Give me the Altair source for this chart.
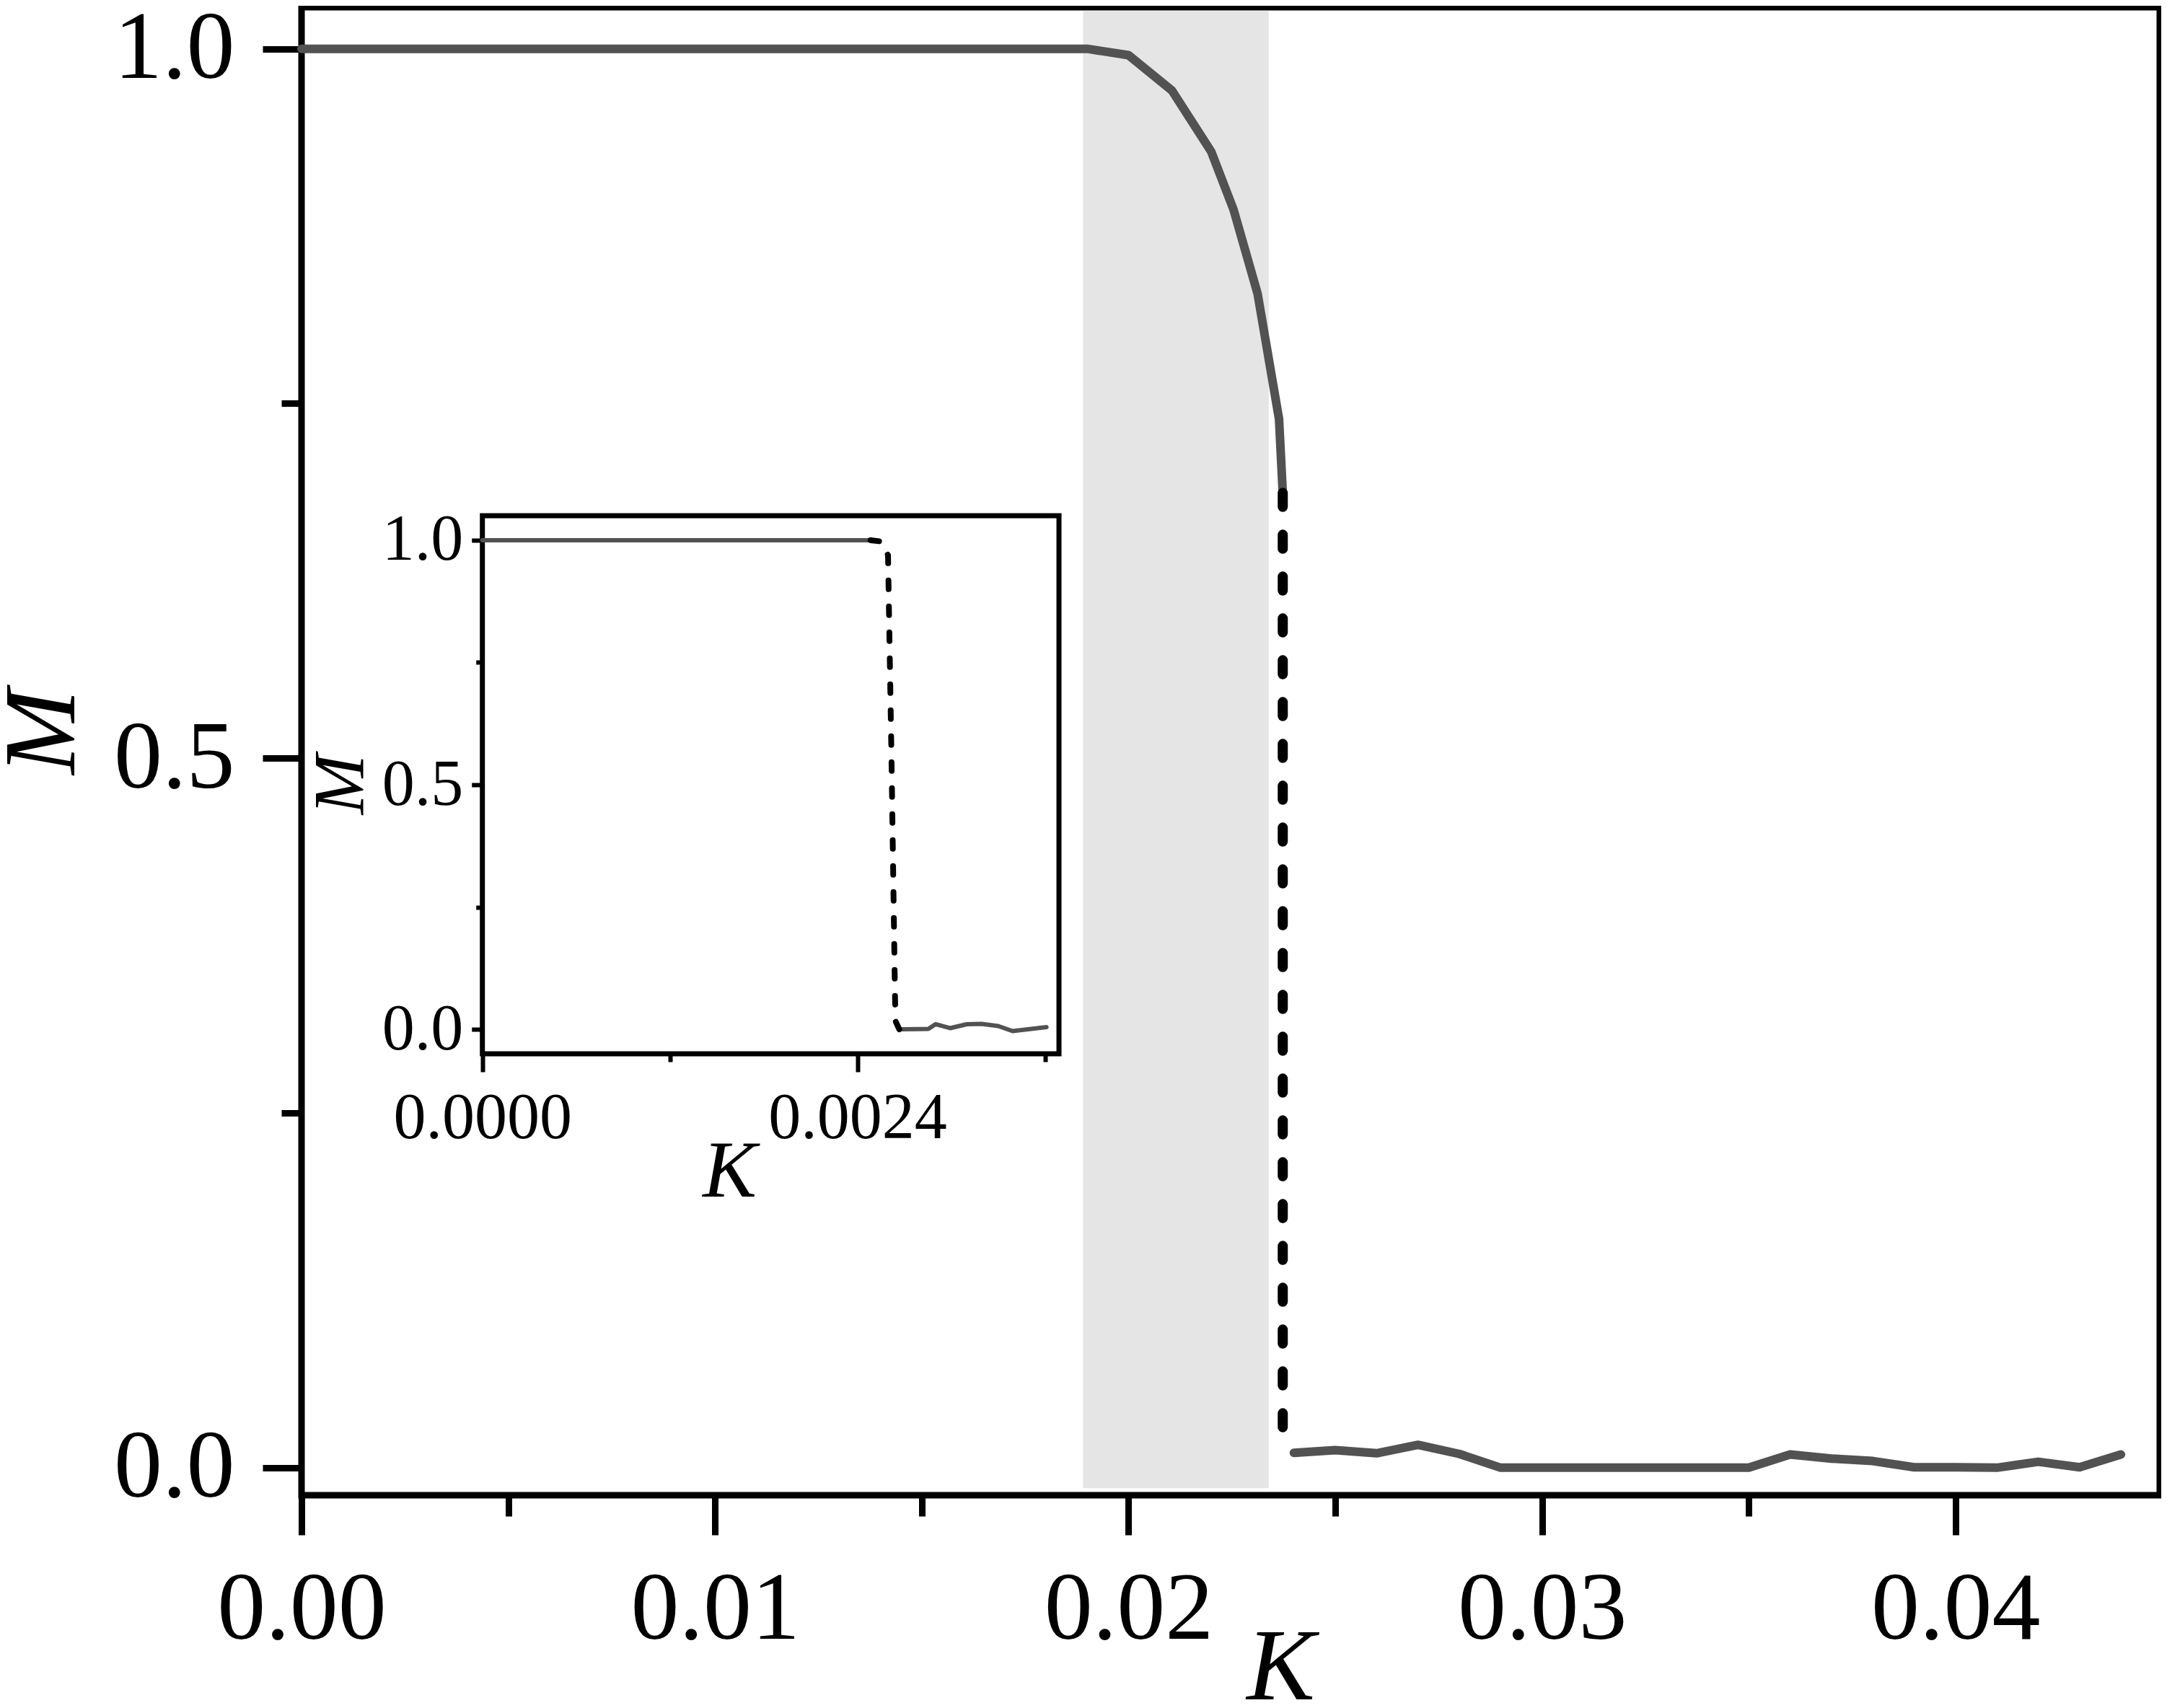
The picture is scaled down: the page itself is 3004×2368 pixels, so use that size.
import altair as alt
import pandas as pd

# ---------------- main panel data ----------------
K_upper = [0.0, 0.0190, 0.0200, 0.02105, 0.0220, 0.02254, 0.02312, 0.02364, 0.02373]
M_upper = [1.0, 1.0, 0.9955, 0.9706, 0.9275, 0.8866, 0.8276, 0.7391, 0.687]

K_lower = [0.024, 0.025, 0.026, 0.027, 0.028, 0.029, 0.030, 0.031, 0.032, 0.033, 0.034,
           0.035, 0.036, 0.037, 0.038, 0.039, 0.040, 0.041, 0.042, 0.043, 0.044]
M_lower = [0.0105, 0.0124, 0.0102, 0.0161, 0.0097, 0.0, 0.0, 0.0, 0.0, 0.0, 0.0,
           0.0, 0.0093, 0.0064, 0.0047, 0.0003, 0.0003, 0.0, 0.0042, 0.0003, 0.0093]

K_jump = [0.02373, 0.02373]
M_jump = [0.687, 0.0105]

shade_K = [0.0189, 0.02339]
shade_M = [-0.0145, 1.0265]

main_x_ticks = [0.0, 0.005, 0.01, 0.015, 0.02, 0.025, 0.03, 0.035, 0.04]
main_y_ticks = [0.0, 0.25, 0.5, 0.75, 1.0]

# ---------------- inset data ----------------
K_in_upper = [0.0, 0.002484]
M_in_upper = [1.0, 1.0]
K_in_jump = [0.002484, 0.00256, 0.002596, 0.002618, 0.002641, 0.002645, 0.002668]
M_in_jump = [1.0, 0.997, 0.969, 0.558, 0.060, 0.016, 0.0]
K_in_lower = [0.002685, 0.002854, 0.0029, 0.002993, 0.0031, 0.003193, 0.003301, 0.003393, 0.00361]
M_in_lower = [0.0, 0.001, 0.0105, 0.0024, 0.0105, 0.0112, 0.0068, -0.0035, 0.0046]
inset_K_lim = [0.0, 0.00369]
inset_M_lim = [-0.05, 1.05]
inset_x_ticks = [0.0, 0.0012, 0.0024, 0.0036]
inset_y_ticks = [0.0, 0.25, 0.5, 0.75, 1.0]

FONT = "Liberation Serif"
GRAY = "#525252"

# ---------------- tables ----------------
def seg_table(parts):
    rows = []
    for name, ks, ms in parts:
        for i, (k, m) in enumerate(zip(ks, ms)):
            rows.append({"K": k, "M": m, "seg": name, "i": i})
    return pd.DataFrame(rows)

main_solid = seg_table([("up", K_upper, M_upper), ("low", K_lower, M_lower)])
main_dash = seg_table([("jump", K_jump, M_jump)])
shade_df = pd.DataFrame({"K0": [shade_K[0]], "K1": [shade_K[1]],
                         "M0": [shade_M[0]], "M1": [shade_M[1]]})

inset_solid = seg_table([("up", K_in_upper, M_in_upper), ("low", K_in_lower, M_in_lower)])
inset_dash = seg_table([("jump", K_in_jump, M_in_jump)])
inset_frame = pd.DataFrame({"K0": [inset_K_lim[0]], "K1": [inset_K_lim[1]],
                            "M0": [inset_M_lim[0]], "M1": [inset_M_lim[1]]})

# ---------------- main scales / axes ----------------
mx_scale = alt.Scale(domain=[0.0, 0.04494], nice=False, zero=False)
my_scale = alt.Scale(domain=[-0.0194, 1.0293], nice=False, zero=False)

common_axis = dict(domain=False, grid=False, tickColor="black", labelColor="black",
                   labelFont=FONT, titleFont=FONT, titleFontStyle="italic",
                   titleFontWeight="normal", titleColor="black", labelFlush=False,
                   labelOverlap=False, labelLimit=2000, titleLimit=2000,
                   titleAlign="center", titleBaseline="alphabetic")

mx_axis = alt.Axis(orient="bottom", title="K", values=main_x_ticks,
                   labelExpr="round(datum.value*200) % 2 == 0 ? format(datum.value, '.2f') : ''",
                   tickSize={"expr": "round(datum.value*200) % 2 == 0 ? 55 : 29"},
                   tickWidth=9, labelFontSize=134, labelPadding=37,
                   titleFontSize=142, titleX=1357, titleY=282, titleAngle=0, **common_axis)
my_axis = alt.Axis(orient="left", title="M", values=main_y_ticks,
                   labelExpr="round(datum.value*4) % 2 == 0 ? format(datum.value, '.1f') : ''",
                   tickSize={"expr": "round(datum.value*4) % 2 == 0 ? 54 : 28"},
                   tickWidth=9, labelFontSize=134, labelPadding=39,
                   titleFontSize=142, titleX=-316, titleY=1004, titleAngle=270, **common_axis)

def MX(f):
    return alt.X(f, type="quantitative", scale=mx_scale, axis=mx_axis)

def MY(f):
    return alt.Y(f, type="quantitative", scale=my_scale, axis=my_axis)

shade = alt.Chart(shade_df).mark_rect(color="#e5e5e5").encode(
    x=MX("K0"), x2="K1", y=MY("M0"), y2="M1")

main_line = alt.Chart(main_solid).mark_line(
    color=GRAY, strokeWidth=12, strokeCap="round", strokeJoin="round").encode(
    x=MX("K"), y=MY("M"), detail="seg:N", order="i:Q")

main_jump = alt.Chart(main_dash).mark_line(
    color="black", strokeWidth=14, strokeCap="round", strokeDash=[19.5, 38.5]).encode(
    x=MX("K"), y=MY("M"), order="i:Q")

main_layer = alt.layer(shade, main_line, main_jump)

# ---------------- inset scales / axes ----------------
ix_scale = alt.Scale(domain=inset_K_lim, range=[250.7, 1050], nice=False, zero=False)
iy_scale = alt.Scale(domain=inset_M_lim, range=[1451, 705], nice=False, zero=False)

ix_axis = alt.Axis(orient="bottom", offset=-613, title="K", values=inset_x_ticks,
                   labelExpr="round(datum.value/0.0012) % 2 == 0 ? format(datum.value, '.4f') : ''",
                   tickSize={"expr": "round(datum.value/0.0012) % 2 == 0 ? 26 : 12"},
                   tickWidth=6, labelFontSize=90, labelPadding=20,
                   titleFontSize=112, titleX=593, titleY=198, titleAngle=0, **common_axis)
iy_axis = alt.Axis(orient="left", offset=-250.7, title="M", values=inset_y_ticks,
                   labelExpr="round(datum.value*4) % 2 == 0 ? format(datum.value, '.1f') : ''",
                   tickSize={"expr": "round(datum.value*4) % 2 == 0 ? 15 : 9"},
                   tickWidth=6, labelFontSize=90, labelPadding=12,
                   titleFontSize=100, titleX=-166, titleY=1077, titleAngle=270, **common_axis)

def IX(f):
    return alt.X(f, type="quantitative", scale=ix_scale, axis=ix_axis)

def IY(f):
    return alt.Y(f, type="quantitative", scale=iy_scale, axis=iy_axis)

inset_box = alt.Chart(inset_frame).mark_rect(fill="white", stroke="black", strokeWidth=7).encode(
    x=IX("K0"), x2="K1", y=IY("M0"), y2="M1")

inset_line = alt.Chart(inset_solid).mark_line(
    color=GRAY, strokeWidth=6, strokeCap="round", strokeJoin="round").encode(
    x=IX("K"), y=IY("M"), detail="seg:N", order="i:Q")

inset_jump = alt.Chart(inset_dash).mark_line(
    color="black", strokeWidth=8, strokeCap="round", strokeDash=[12, 24]).encode(
    x=IX("K"), y=IY("M"), order="i:Q")

inset_layer = alt.layer(inset_box, inset_line, inset_jump)

chart = alt.layer(main_layer, inset_layer).resolve_scale(
    x="independent", y="independent"
).properties(
    width=2576, height=2063,
    padding={"left": 410, "top": 2, "right": 2, "bottom": 287},
    autosize=alt.AutoSizeParams(type="none"),
    background="white",
).configure_view(stroke="black", strokeWidth=9, fill="white")

chart.save("out.html", embed_options={"renderer": "svg", "actions": False})
